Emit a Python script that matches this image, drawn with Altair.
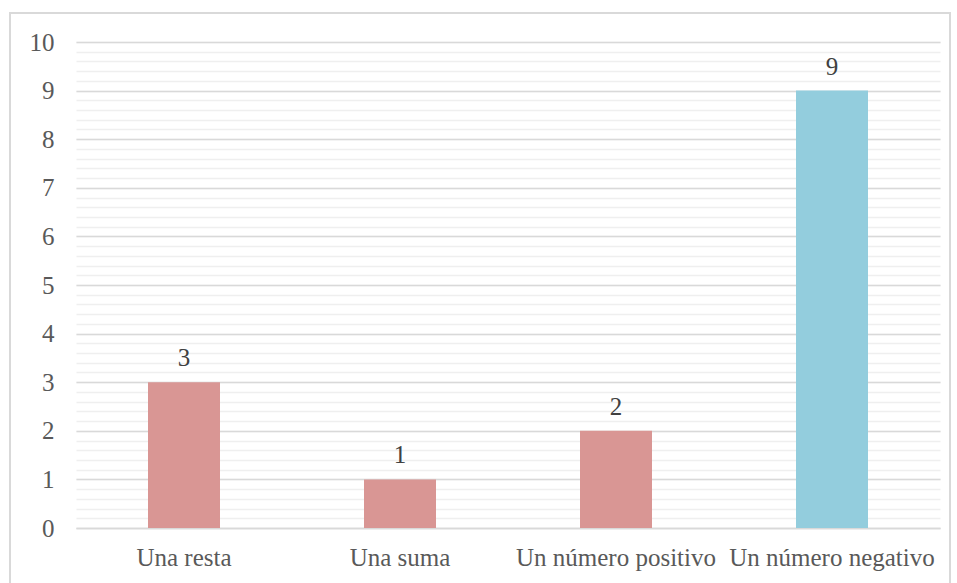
import altair as alt
import pandas as pd

categories = ["Una resta", "Una suma", "Un número positivo", "Un número negativo"]
counts = [3, 1, 2, 9]
bar_colors = ["#D99694", "#D99694", "#D99694", "#93CDDD"]
major_ticks = [0, 1, 2, 3, 4, 5, 6, 7, 8, 9, 10]
minor_ticks = [round(i * 0.2, 1) for i in range(51)]

df = pd.DataFrame({"cat": categories, "n": counts, "color": bar_colors})

FONT = "Liberation Serif"
FS = 25

x_enc = alt.X("cat:N", sort=categories, title=None,
              scale=alt.Scale(paddingInner=2/3, paddingOuter=1/3),
              axis=alt.Axis(labelAngle=0, ticks=False, domain=True, domainColor="#d9d9d9",
                            domainWidth=1.5, labelPadding=17, labelFont=FONT, labelLimit=0,
                            labelFontSize=FS, labelColor="#595959"))
y_scale = alt.Scale(domain=[0, 10], nice=False)

base = alt.Chart(df)

# light minor grid every 0.2
minor = base.mark_bar(opacity=0).encode(
    x=x_enc,
    y=alt.Y("n:Q", scale=y_scale, title=None,
            axis=alt.Axis(values=minor_ticks, grid=True, gridColor="#efefef", gridWidth=1.5,
                          labels=False, ticks=False, domain=False, orient="right")),
)

bars = base.mark_bar().encode(
    x=x_enc,
    y=alt.Y("n:Q", scale=y_scale, title=None,
            axis=alt.Axis(values=major_ticks, grid=True, gridColor="#d9d9d9", gridWidth=1.5,
                          ticks=False, domain=False, labelPadding=22, labelFont=FONT,
                          labelFontSize=FS, labelColor="#595959")),
    color=alt.Color("color:N", scale=None),
)

labels = base.mark_text(baseline="bottom", dy=-11, font=FONT, fontSize=FS, color="#404040").encode(
    x=x_enc,
    y=alt.Y("n:Q", scale=y_scale, axis=None),
    text=alt.Text("n:Q"),
)

frame = alt.Chart(pd.DataFrame({"k": [0]})).mark_rect(
    fill=None, stroke="#d9d9d9", strokeWidth=2, clip=False
).encode(
    x=alt.value(-66), x2=alt.value(874), y=alt.value(-29), y2=alt.value(580)
)

chart = alt.layer(frame, minor, bars, labels).resolve_axis(y="independent").properties(
    width=864, height=486,
    autosize=alt.AutoSizeParams(type="none"),
    padding={"left": 76, "top": 42, "right": 17, "bottom": 55},
    background="white",
).configure_view(stroke=None)

chart.save("out.html", embed_options={"renderer": "svg", "actions": False})
